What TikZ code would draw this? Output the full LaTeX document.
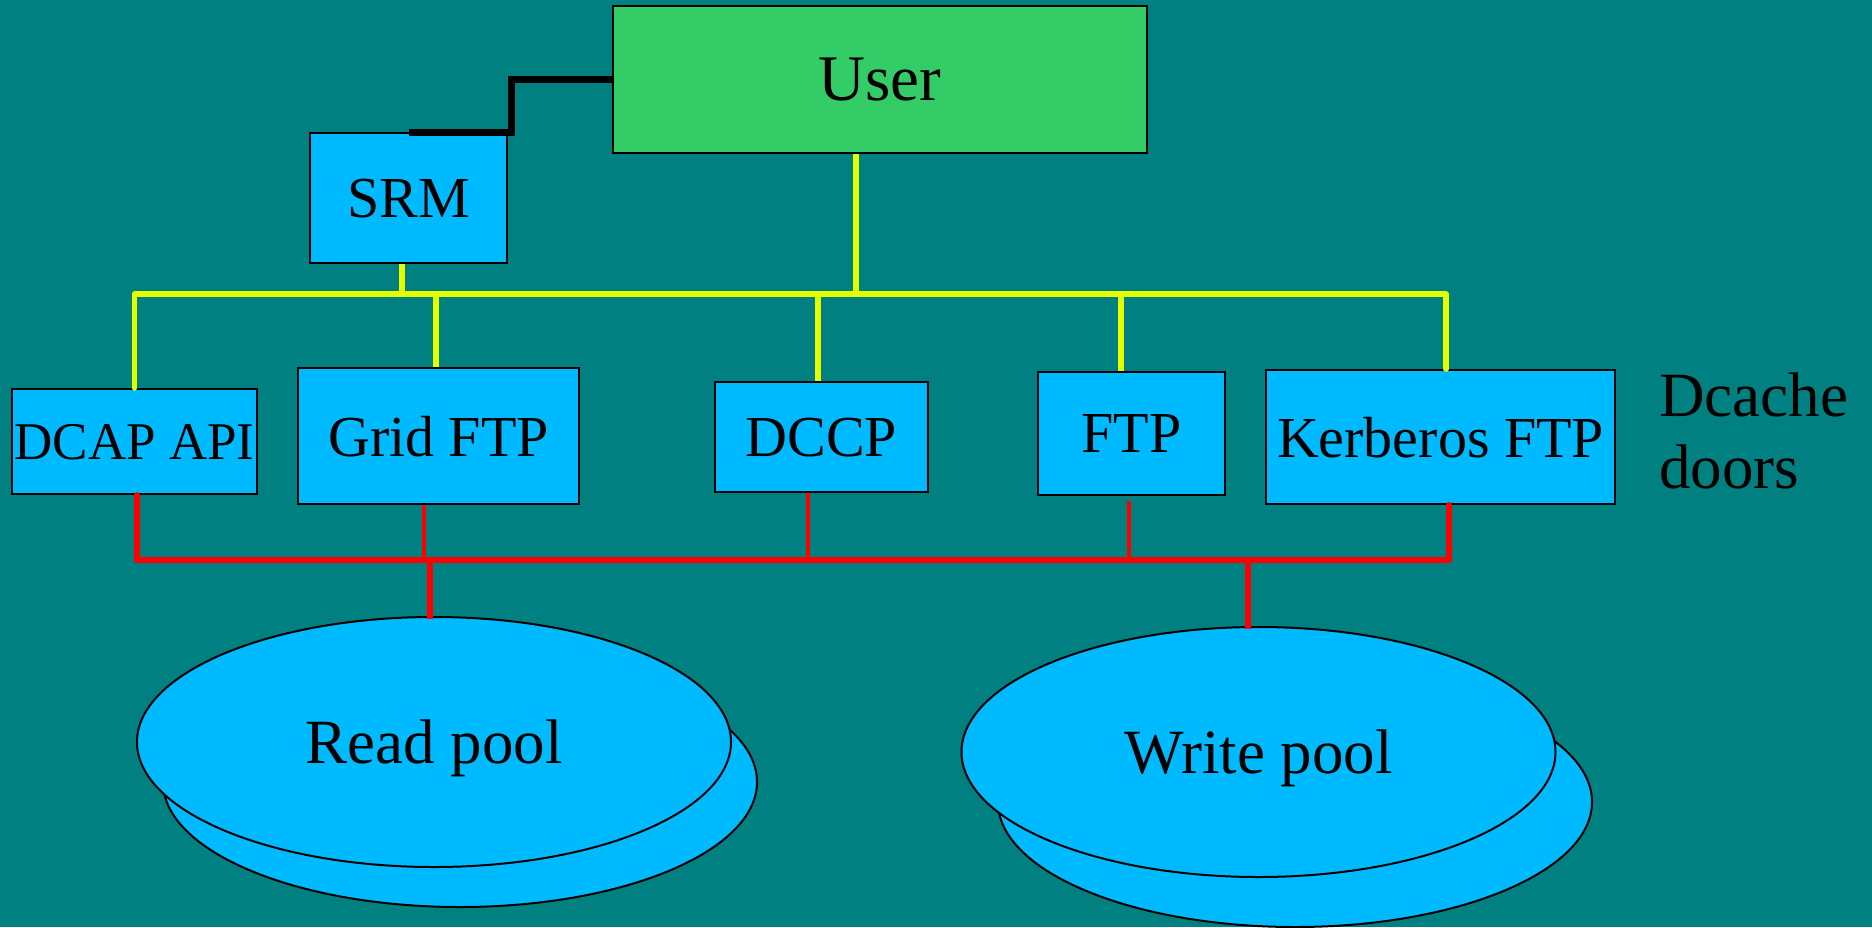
\documentclass[tikz,border=0pt]{standalone}
\usepackage{fontspec}
\setmainfont{Liberation Serif}
\usetikzlibrary{shapes.geometric,calc}
\definecolor{bgteal}{RGB}{0,128,128}
\definecolor{boxcyan}{RGB}{0,186,255}
\definecolor{usergreen}{RGB}{51,204,102}
\definecolor{busyellow}{RGB}{228,255,0}
\definecolor{busred}{RGB}{255,0,0}
\tikzset{
  doorbox/.style={draw=black, line width=2pt, fill=boxcyan, rectangle, inner sep=0pt, text depth=0pt},
  pool/.style={draw=black, line width=2pt, fill=boxcyan, ellipse, inner sep=0pt, minimum width=594pt, minimum height=250pt, text depth=0pt},
  yline/.style={draw=busyellow, line width=5.5pt},
  rthick/.style={draw=busred, line width=6pt},
  rthin/.style={draw=busred, line width=4pt},
  bline/.style={draw=black, line width=7pt},
  f58/.style={font=\fontsize{58}{66}\selectfont},
}
\begin{document}
\begin{tikzpicture}[x=1pt,y=-1pt]
\fill[bgteal] (0,0) rectangle (1872,927);
\useasboundingbox (0,0) rectangle (1872,927);

% boxes
\node[doorbox, fill=usergreen, minimum width=534pt, minimum height=147pt, font=\fontsize{65}{72}\selectfont] (user) at (880,79.5) {User};
\node[doorbox, f58, minimum width=197pt, minimum height=130pt] (srm) at (408.5,198) {SRM};
\node[doorbox, minimum width=245pt, minimum height=105pt, font=\fontsize{53}{60}\selectfont] (dcap) at (134.5,441.5) {DCAP API};
\node[doorbox, f58, minimum width=281pt, minimum height=136pt] (grid) at (438.5,436) {Grid FTP};
\node[doorbox, f58, minimum width=213pt, minimum height=110pt] (dccp) at (821.5,437) {DCCP};
\node[doorbox, f58, minimum width=187pt, minimum height=123pt] (ftp) at (1131.5,433.5) {FTP};
\node[doorbox, f58, minimum width=349pt, minimum height=134pt] (kerb) at (1440.5,437) {Kerberos FTP};

\node[anchor=west, inner sep=0pt, align=left, font=\fontsize{63}{72}\selectfont] (doors) at (1659,431) {Dcache\\doors};

% pools
\node[pool] (readback) at (460,782) {};
\node[pool, font=\fontsize{63}{72}\selectfont] (read) at (434,742) {Read pool};
\node[pool] (writeback) at (1295,802) {};
\node[pool, font=\fontsize{63}{72}\selectfont] (write) at (1258.5,752) {Write pool};

% bus coordinates
\coordinate (ybus) at (0,294);
\coordinate (rbus) at (0,560);
\coordinate (bend) at (511,0);

% black SRM-User link
\draw[bline] (srm.north) -| (bend |- user.west) -- (user.west);

% yellow bus
\draw[yline, line cap=round, line join=round] (dcap.north) |- ([xshift=5.5pt]kerb.north |- ybus) -- ([xshift=5.5pt]kerb.north);
\draw[yline] ([xshift=-24pt]user.south) -- ([xshift=-24pt]user.south |- ybus);
\draw[yline] ([xshift=-6.5pt]srm.south) -- ([xshift=-6.5pt]srm.south |- ybus);
\draw[yline] ([xshift=-2.5pt]grid.north |- ybus) -- ([xshift=-2.5pt]grid.north);
\draw[yline] ([xshift=-3.5pt]dccp.north |- ybus) -- ([xshift=-3.5pt]dccp.north);
\draw[yline] ([xshift=-10.5pt]ftp.north |- ybus) -- ([xshift=-10.5pt]ftp.north);

% red bus
\draw[rthick, line cap=round, line join=round] ([xshift=2.5pt]dcap.south) |- ([xshift=8.5pt]kerb.south |- rbus) -- ([xshift=8.5pt]kerb.south);
\draw[rthin] ([xshift=-14.5pt]grid.south) -- ([xshift=-14.5pt]grid.south |- rbus);
\draw[rthin] ([xshift=-13.5pt]dccp.south) -- ([xshift=-13.5pt]dccp.south |- rbus);
\draw[rthin] ([xshift=-2.5pt,yshift=-5pt]ftp.south) -- ([xshift=-2.5pt]ftp.south |- rbus);
\draw[rthick] ([xshift=-4pt]read.north |- rbus) -- ([xshift=-4pt,yshift=-3pt]read.north);
\draw[rthick] ([xshift=-10.5pt]write.north |- rbus) -- ([xshift=-10.5pt,yshift=-3pt]write.north);
\end{tikzpicture}
\end{document}
